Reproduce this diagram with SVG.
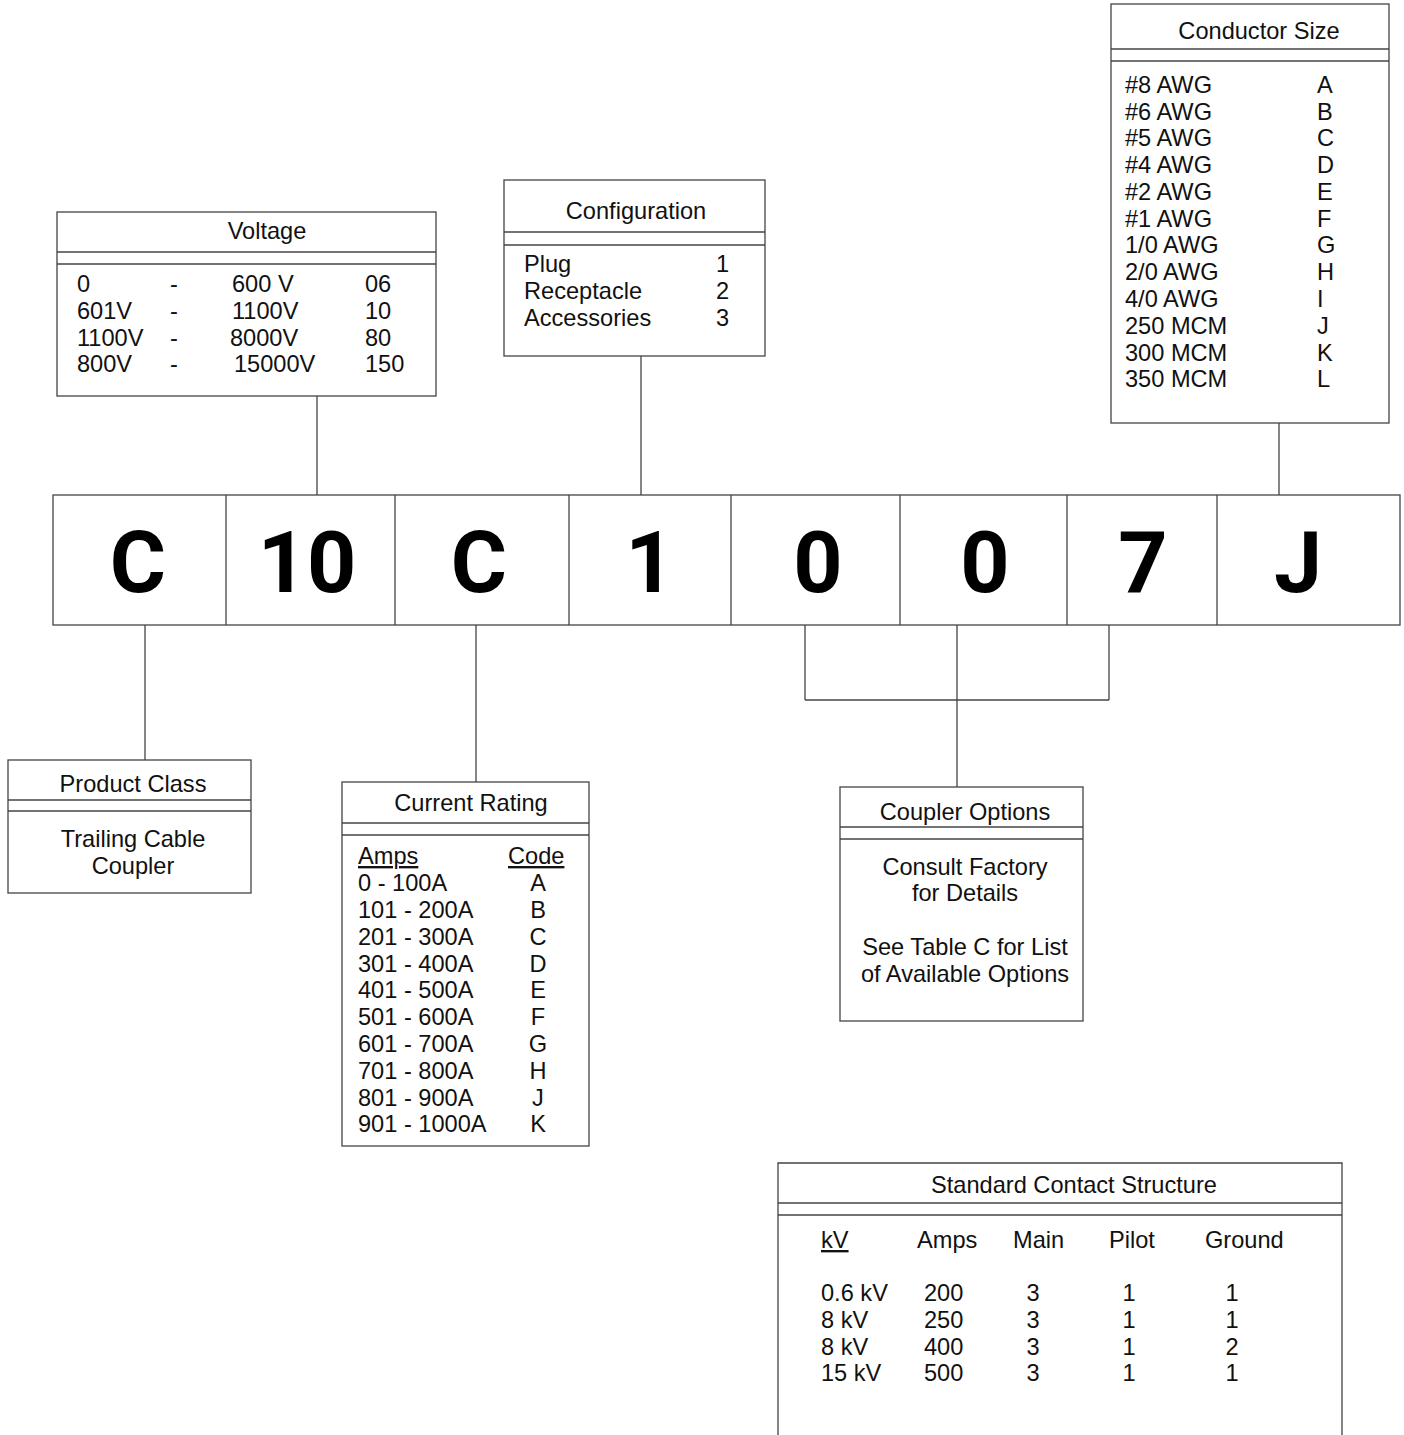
<svg xmlns="http://www.w3.org/2000/svg" width="1404" height="1435" viewBox="0 0 1404 1435">
<style>
.box{fill:#fff;stroke:#444;stroke-width:1.3}
.ln{stroke:#444;stroke-width:1.3;fill:none}
.t{font-family:"Liberation Sans",Arial,sans-serif;font-size:23.6px;fill:#111}
.m{text-anchor:middle}
.big{font-family:Roboto,"DejaVu Sans",sans-serif;font-weight:700;font-size:86px;fill:#000;text-anchor:middle}
.u{text-decoration:underline}
</style>
<rect width="1404" height="1435" fill="#fff"/>

<g id="connectors">
<line class="ln" x1="317" y1="396" x2="317" y2="495"/>
<line class="ln" x1="641" y1="356" x2="641" y2="495"/>
<line class="ln" x1="1279" y1="423" x2="1279" y2="495"/>
<line class="ln" x1="145" y1="625" x2="145" y2="760"/>
<line class="ln" x1="476" y1="625" x2="476" y2="782"/>
<line class="ln" x1="805" y1="625" x2="805" y2="700"/>
<line class="ln" x1="1109" y1="625" x2="1109" y2="700"/>
<line class="ln" x1="805" y1="700" x2="1109" y2="700"/>
<line class="ln" x1="957" y1="625" x2="957" y2="787"/>
</g>

<g id="code-bar">
<rect class="box" x="53" y="495" width="1347" height="130"/>
<line class="ln" x1="226" y1="495" x2="226" y2="625"/>
<line class="ln" x1="395" y1="495" x2="395" y2="625"/>
<line class="ln" x1="569" y1="495" x2="569" y2="625"/>
<line class="ln" x1="731" y1="495" x2="731" y2="625"/>
<line class="ln" x1="900" y1="495" x2="900" y2="625"/>
<line class="ln" x1="1067" y1="495" x2="1067" y2="625"/>
<line class="ln" x1="1217" y1="495" x2="1217" y2="625"/>
<text class="big" x="138" y="592">C</text>
<text class="big" x="307" y="592">10</text>
<text class="big" x="479" y="592">C</text>
<text class="big" x="650" y="592">1</text>
<text class="big" x="818" y="592">0</text>
<text class="big" x="985" y="592">0</text>
<text class="big" x="1143" y="592">7</text>
<text class="big" x="1298" y="592">J</text>
</g>

<g id="voltage">
<rect class="box" x="57" y="212" width="379" height="184"/>
<line class="ln" x1="57" y1="252" x2="436" y2="252"/>
<line class="ln" x1="57" y1="264" x2="436" y2="264"/>
<text class="t m" x="267" y="239">Voltage</text>
<text class="t" x="77" y="292">0</text><text class="t" x="170" y="292">-</text><text class="t" x="232" y="292">600 V</text><text class="t" x="365" y="292">06</text>
<text class="t" x="77" y="319">601V</text><text class="t" x="170" y="319">-</text><text class="t" x="232" y="319">1100V</text><text class="t" x="365" y="319">10</text>
<text class="t" x="77" y="346">1100V</text><text class="t" x="170" y="346">-</text><text class="t" x="230" y="346">8000V</text><text class="t" x="365" y="346">80</text>
<text class="t" x="77" y="372">800V</text><text class="t" x="170" y="372">-</text><text class="t" x="234" y="372">15000V</text><text class="t" x="365" y="372">150</text>
</g>

<g id="configuration">
<rect class="box" x="504" y="180" width="261" height="176"/>
<line class="ln" x1="504" y1="232" x2="765" y2="232"/>
<line class="ln" x1="504" y1="245" x2="765" y2="245"/>
<text class="t m" x="636" y="219">Configuration</text>
<text class="t" x="524" y="272">Plug</text><text class="t" x="716" y="272">1</text>
<text class="t" x="524" y="299">Receptacle</text><text class="t" x="716" y="299">2</text>
<text class="t" x="524" y="326">Accessories</text><text class="t" x="716" y="326">3</text>
</g>

<g id="conductor-size">
<rect class="box" x="1111" y="4" width="278" height="419"/>
<line class="ln" x1="1111" y1="49" x2="1389" y2="49"/>
<line class="ln" x1="1111" y1="61" x2="1389" y2="61"/>
<text class="t m" x="1259" y="39">Conductor Size</text>
<text class="t" x="1125" y="93">#8 AWG</text><text class="t" x="1317" y="93">A</text>
<text class="t" x="1125" y="120">#6 AWG</text><text class="t" x="1317" y="120">B</text>
<text class="t" x="1125" y="146">#5 AWG</text><text class="t" x="1317" y="146">C</text>
<text class="t" x="1125" y="173">#4 AWG</text><text class="t" x="1317" y="173">D</text>
<text class="t" x="1125" y="200">#2 AWG</text><text class="t" x="1317" y="200">E</text>
<text class="t" x="1125" y="227">#1 AWG</text><text class="t" x="1317" y="227">F</text>
<text class="t" x="1125" y="253">1/0 AWG</text><text class="t" x="1317" y="253">G</text>
<text class="t" x="1125" y="280">2/0 AWG</text><text class="t" x="1317" y="280">H</text>
<text class="t" x="1125" y="307">4/0 AWG</text><text class="t" x="1317" y="307">I</text>
<text class="t" x="1125" y="334">250 MCM</text><text class="t" x="1317" y="334">J</text>
<text class="t" x="1125" y="361">300 MCM</text><text class="t" x="1317" y="361">K</text>
<text class="t" x="1125" y="387">350 MCM</text><text class="t" x="1317" y="387">L</text>
</g>

<g id="product-class">
<rect class="box" x="8" y="760" width="243" height="133"/>
<line class="ln" x1="8" y1="800" x2="251" y2="800"/>
<line class="ln" x1="8" y1="811" x2="251" y2="811"/>
<text class="t m" x="133" y="792">Product Class</text>
<text class="t m" x="133" y="847">Trailing Cable</text>
<text class="t m" x="133" y="874">Coupler</text>
</g>

<g id="current-rating">
<rect class="box" x="342" y="782" width="247" height="364"/>
<line class="ln" x1="342" y1="823" x2="589" y2="823"/>
<line class="ln" x1="342" y1="835" x2="589" y2="835"/>
<text class="t m" x="471" y="811">Current Rating</text>
<text class="t u" x="358" y="864">Amps</text><text class="t u" x="508" y="864">Code</text>
<text class="t" x="358" y="891">0 - 100A</text><text class="t m" x="538" y="891">A</text>
<text class="t" x="358" y="918">101 - 200A</text><text class="t m" x="538" y="918">B</text>
<text class="t" x="358" y="945">201 - 300A</text><text class="t m" x="538" y="945">C</text>
<text class="t" x="358" y="972">301 - 400A</text><text class="t m" x="538" y="972">D</text>
<text class="t" x="358" y="998">401 - 500A</text><text class="t m" x="538" y="998">E</text>
<text class="t" x="358" y="1025">501 - 600A</text><text class="t m" x="538" y="1025">F</text>
<text class="t" x="358" y="1052">601 - 700A</text><text class="t m" x="538" y="1052">G</text>
<text class="t" x="358" y="1079">701 - 800A</text><text class="t m" x="538" y="1079">H</text>
<text class="t" x="358" y="1106">801 - 900A</text><text class="t m" x="538" y="1106">J</text>
<text class="t" x="358" y="1132">901 - 1000A</text><text class="t m" x="538" y="1132">K</text>
</g>

<g id="coupler-options">
<rect class="box" x="840" y="787" width="243" height="234"/>
<line class="ln" x1="840" y1="827" x2="1083" y2="827"/>
<line class="ln" x1="840" y1="839" x2="1083" y2="839"/>
<text class="t m" x="965" y="820">Coupler Options</text>
<text class="t m" x="965" y="875">Consult Factory</text>
<text class="t m" x="965" y="901">for Details</text>
<text class="t m" x="965" y="955">See Table C for List</text>
<text class="t m" x="965" y="982">of Available Options</text>
</g>

<g id="standard-contact-structure">
<path class="ln" d="M778 1440 V1163 H1342 V1440"/>
<line class="ln" x1="778" y1="1203" x2="1342" y2="1203"/>
<line class="ln" x1="778" y1="1215" x2="1342" y2="1215"/>
<text class="t m" x="1074" y="1193">Standard Contact Structure</text>
<text class="t u" x="821" y="1248">kV</text>
<text class="t" x="917" y="1248">Amps</text>
<text class="t" x="1013" y="1248">Main</text>
<text class="t" x="1109" y="1248">Pilot</text>
<text class="t" x="1205" y="1248">Ground</text>
<text class="t" x="821" y="1301">0.6 kV</text><text class="t" x="924" y="1301">200</text><text class="t m" x="1033" y="1301">3</text><text class="t m" x="1129" y="1301">1</text><text class="t m" x="1232" y="1301">1</text>
<text class="t" x="821" y="1328">8 kV</text><text class="t" x="924" y="1328">250</text><text class="t m" x="1033" y="1328">3</text><text class="t m" x="1129" y="1328">1</text><text class="t m" x="1232" y="1328">1</text>
<text class="t" x="821" y="1355">8 kV</text><text class="t" x="924" y="1355">400</text><text class="t m" x="1033" y="1355">3</text><text class="t m" x="1129" y="1355">1</text><text class="t m" x="1232" y="1355">2</text>
<text class="t" x="821" y="1381">15 kV</text><text class="t" x="924" y="1381">500</text><text class="t m" x="1033" y="1381">3</text><text class="t m" x="1129" y="1381">1</text><text class="t m" x="1232" y="1381">1</text>
</g>
</svg>
